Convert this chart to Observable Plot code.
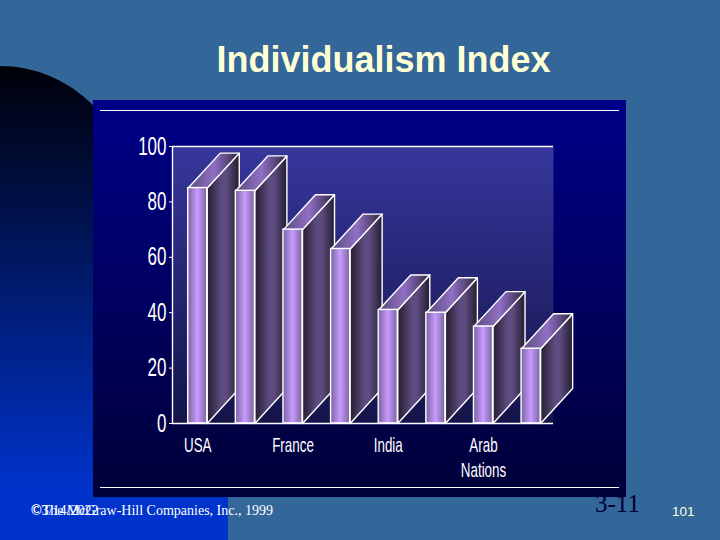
<!DOCTYPE html>
<html><head><meta charset="utf-8">
<script src="https://cdn.jsdelivr.net/npm/d3@7"></script>
<script src="https://cdn.jsdelivr.net/npm/@observablehq/plot@0.6"></script>
<style>
html,body{margin:0;padding:0;background:#336699;width:720px;height:540px;overflow:hidden}
.a{position:absolute}
#blue{left:0;top:66px;width:228px;height:474px;background:linear-gradient(#000008,#0033cc 90%);clip-path:path('M0 0A130 130 0 0 1 130 130L228 130L228 474L0 474Z')}
#panel{left:93px;top:100px;width:533px;height:397px;background:linear-gradient(#000088,#000038)}
.ln{left:100px;width:519px;height:1px;background:#fff}
#chart{left:0;top:0}
.t{white-space:nowrap;line-height:1}
</style></head><body>
<div class="a" id="blue"></div>
<div class="a t" style="left:595px;top:490px;font:25px 'Liberation Serif';color:#000033">3-11</div>
<div class="a" id="panel"></div>
<div class="a ln" style="top:110px"></div>
<div class="a ln" style="top:487px"></div>
<div class="a t" id="title" style="left:0;width:767px;top:39px;text-align:center;font:bold 36px 'Liberation Sans';color:#ffffd6">Individualism Index</div>
<div class="a t" style="left:31px;top:503px;font:14px 'Liberation Serif';color:#fff">©The McGraw-Hill Companies, Inc., 1999</div>
<div class="a t" style="left:31px;top:503px;font:14px 'Liberation Serif';color:#fff">©3/14/2022</div>
<div class="a t" style="left:672px;top:504px;font:13.5px 'Liberation Sans';color:#ffffe6">101</div>
<div class="a" id="chart"></div>
<script>
const values = [85, 84, 70, 63, 41, 40, 35, 27];
const labels = ["USA", "", "France", "", "India", "", "Arab\nNations", ""];
const yTicks = [0, 20, 40, 60, 80, 100];
const off = 0.33, bw = 0.4, dx = 0.672, dy = 12.6;

const defs = () => {
  const d = d3.create("svg:defs");
  d.html(`
  <linearGradient id="wall" x1="0" y1="0" x2="0" y2="1"><stop offset="0" stop-color="#36369c"/><stop offset="1" stop-color="#14144a"/></linearGradient>
  <linearGradient id="front" x1="0" y1="0" x2="1" y2="0"><stop offset="0" stop-color="#7a62a0"/><stop offset=".5" stop-color="#c89cff"/><stop offset="1" stop-color="#7a64a0"/></linearGradient>
  <linearGradient id="side" x1="0" y1="0" x2="1" y2="0"><stop offset="0" stop-color="#241d30"/><stop offset=".45" stop-color="#5e4c80"/><stop offset=".6" stop-color="#5e4c80"/><stop offset="1" stop-color="#241d30"/></linearGradient>
  <linearGradient id="top" x1="0" y1="0" x2="1" y2="0"><stop offset="0" stop-color="#5a4a7c"/><stop offset=".5" stop-color="#9070c4"/><stop offset="1" stop-color="#2e2640"/></linearGradient>`);
  return d.node();
};

const face = (pts, fill) => Plot.line(pts, {x: "x", y: "y", fill, stroke: "#fff", strokeWidth: 1.4, curve: "linear-closed"});

const bars = values.flatMap((v, i) => {
  const a = i + off, b = a + bw;
  return [
    face([{x: b, y: 0}, {x: b + dx, y: dy}, {x: b + dx, y: v + dy}, {x: b, y: v}], "url(#side)"),
    face([{x: a, y: v}, {x: b, y: v}, {x: b + dx, y: v + dy}, {x: a + dx, y: v + dy}], "url(#top)"),
    Plot.rect([v], {x1: a, x2: b, y1: 0, y2: v, fill: "url(#front)", stroke: "#fff", strokeWidth: 1.4})
  ];
});

const condensed = (k) => (index, scales, values, dims, context, next) => {
  const g = next(index, scales, values, dims, context);
  d3.select(g).selectAll("text").attr("transform", function () {
    return (this.getAttribute("transform") || "") + ` scale(${k},1)`;
  });
  return g;
};

const plot = Plot.plot({
  width: 720, height: 540,
  marginLeft: 172, marginRight: 167, marginTop: 146, marginBottom: 117,
  style: {background: "transparent", color: "#fff", fontFamily: "'Liberation Sans'"},
  x: {domain: [0, 8], axis: null},
  y: {domain: [0, 100], axis: null},
  marks: [
    defs,
    Plot.frame({fill: "url(#wall)", stroke: "none"}),
    Plot.ruleY([100], {stroke: "#fff", strokeWidth: 1.4}),
    Plot.ruleX([0], {stroke: "#fff", strokeWidth: 1.4}),
    ...bars,
    Plot.ruleY([0], {stroke: "#fff", strokeWidth: 1.4}),
    Plot.axisY({ticks: yTicks, tickSize: 3, tickPadding: 3, fontSize: 25, stroke: "#fff", strokeWidth: 1, label: null, marginLeft: 172, render: condensed(0.68)}),
    Plot.axisX({ticks: labels.map((l, i) => i + off + bw / 2).filter((_, i) => labels[i]),
      tickFormat: (t) => labels[Math.floor(t)], tickSize: 0, tickPadding: 11, fontSize: 20, lineHeight: 1.25, label: null, textAnchor: "middle", lineAnchor: "top", render: condensed(0.67)})
  ]
});
document.getElementById("chart").appendChild(plot);
</script>
</body></html>
